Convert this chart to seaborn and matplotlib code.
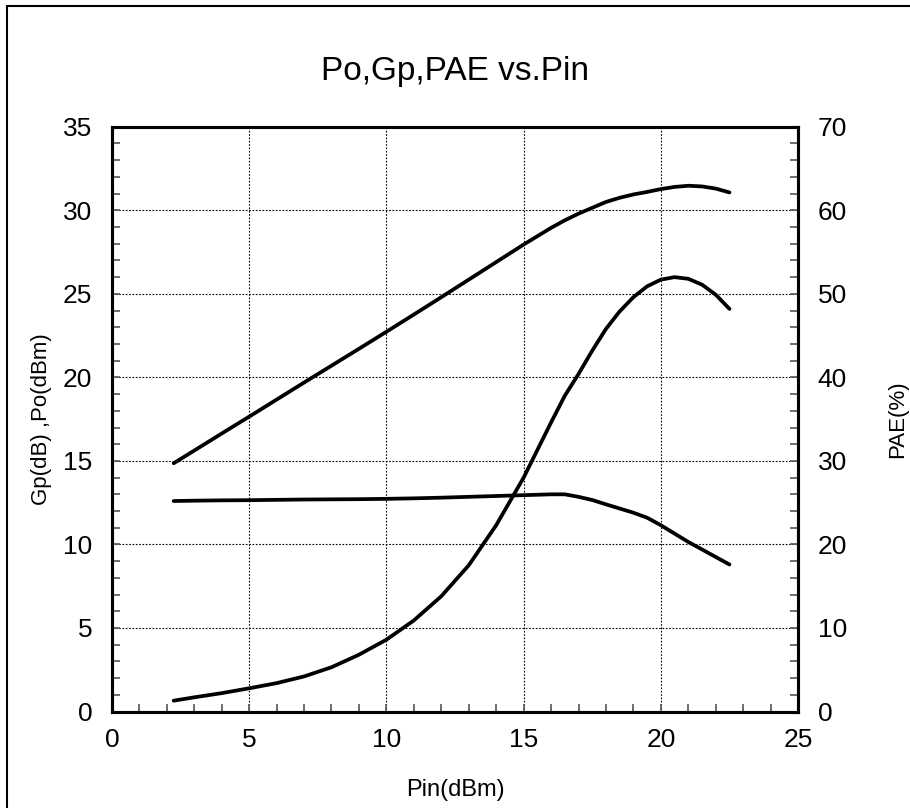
import pandas as pd
import seaborn as sns
import matplotlib.pyplot as plt
from matplotlib.lines import Line2D
from matplotlib.ticker import MultipleLocator

# Data
pin = [2.25, 3, 4, 5, 6, 7, 8, 9, 10, 11, 12, 13, 14, 15, 16, 16.5, 17, 17.5,
       18, 18.5, 19, 19.5, 20, 20.5, 21, 21.5, 22, 22.5]
po = [14.86, 15.62, 16.64, 17.65, 18.67, 19.69, 20.7, 21.71, 22.73, 23.76, 24.8,
      25.85, 26.9, 27.95, 28.95, 29.4, 29.8, 30.15, 30.5, 30.75, 30.95, 31.1,
      31.27, 31.4, 31.47, 31.43, 31.3, 31.07]
gp = [12.6, 12.62, 12.64, 12.65, 12.67, 12.69, 12.7, 12.71, 12.73, 12.76, 12.8,
      12.85, 12.9, 12.95, 13.0, 13.0, 12.85, 12.66, 12.4, 12.15, 11.9, 11.6,
      11.15, 10.65, 10.15, 9.7, 9.25, 8.8]
pae = [1.3, 1.7, 2.2, 2.78, 3.4, 4.2, 5.3, 6.8, 8.6, 10.9, 13.8, 17.5, 22.3,
       28.0, 34.6, 37.8, 40.4, 43.2, 45.8, 47.9, 49.6, 50.9, 51.7, 52.0, 51.8,
       51.1, 49.9, 48.2]

df = pd.DataFrame({'pin': pin, 'po': po, 'gp': gp, 'pae': pae})

sns.set_theme(style='white')
plt.rcParams['font.family'] = ['Liberation Sans', 'DejaVu Sans']
plt.rcParams['text.color'] = 'black'
plt.rcParams['axes.labelcolor'] = 'black'

fig = plt.figure(figsize=(9.1, 8.08), dpi=100)
ax = fig.add_axes([0.123, 0.1194, 0.754, 0.7237])
ax2 = ax.twinx()

lw = 2.7
sns.lineplot(data=df, x='pin', y='po', ax=ax, color='black', lw=lw)
sns.lineplot(data=df, x='pin', y='gp', ax=ax, color='black', lw=lw)
sns.lineplot(data=df, x='pin', y='pae', ax=ax2, color='black', lw=lw)

ax.set_xlim(0, 25)
ax.set_ylim(0, 35)
ax2.set_ylim(0, 70)
ax.xaxis.set_major_locator(MultipleLocator(5))
ax.xaxis.set_minor_locator(MultipleLocator(1))
ax.yaxis.set_major_locator(MultipleLocator(5))
ax.yaxis.set_minor_locator(MultipleLocator(1))
ax2.yaxis.set_major_locator(MultipleLocator(10))
ax2.yaxis.set_minor_locator(MultipleLocator(2))

ax.grid(True, which='major', color='black', linestyle=(0, (1.5, 1.5)), lw=0.8)
ax2.grid(False)

ax.tick_params(axis='both', which='both', direction='in', colors='#555555',
               labelcolor='black', labelsize=19, width=1.2, length=6)
ax.tick_params(axis='y', pad=14, left=True, which='both')
ax.tick_params(axis='x', pad=12, bottom=True, which='both')
ax2.tick_params(axis='y', which='both', direction='in', colors='#555555',
                labelcolor='black', labelsize=19, width=1.2, length=6, pad=14,
                right=True)

for a in (ax, ax2):
    for s in a.spines.values():
        s.set_color('black')
        s.set_linewidth(2.2)

ax.set_xlabel('Pin(dBm)', fontsize=17, labelpad=19)
ax.set_ylabel('Gp(dB) ,Po(dBm)', fontsize=16, labelpad=8)
ax2.set_ylabel('PAE(%)', fontsize=16, labelpad=29)
ax.set_title('Po,Gp,PAE vs.Pin', fontsize=24, pad=34)

# outer frame (left and top edges visible in the reference)
fig.add_artist(Line2D([7 / 910, 7 / 910], [0, 1 - 6 / 808], color='black', lw=1.5))
fig.add_artist(Line2D([7 / 910, 1], [1 - 6 / 808, 1 - 6 / 808], color='black', lw=1.5))

fig.savefig('out.png', dpi=100)
